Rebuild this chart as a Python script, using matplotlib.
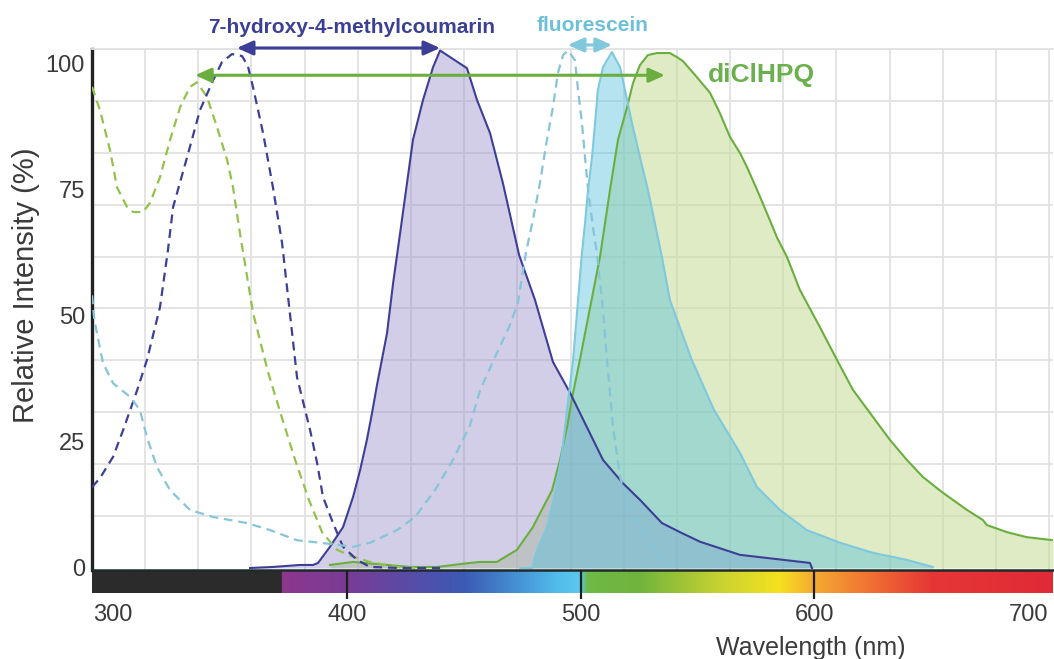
#!/usr/bin/env python3
"""
Excitation (dashed) and emission (filled) spectra of 7-hydroxy-4-methylcoumarin,
fluorescein and diClHPQ, with the visible colour bar under the wavelength axis.
"""
import numpy as np
import matplotlib.pyplot as plt
from matplotlib.colors import to_rgb

plt.rcParams["font.family"] = ["Liberation Sans", "DejaVu Sans"]

# ---- data (wavelength nm, relative intensity %) ----
cou_ex_nm = [291.0, 294.4, 300.0, 304.3, 310.3, 314.5, 320.1, 323.5, 325.7, 331.7, 337.2, 342.8,
             346.6, 350.9, 355.2, 357.7, 359.9, 364.2, 368.4, 372.3, 378.7, 384.3, 387.3, 389.8,
             394.1, 398.4, 404.4, 409.9, 422.8, 439.9]
cou_ex_val = [16.0, 17.8, 22.0, 27.3, 35.2, 41.2, 51.7, 63.0, 71.5, 81.4, 90.7, 96.6,
              100.2, 101.8, 101.4, 99.4, 95.2, 86.1, 75.4, 64.4, 37.8, 27.3, 20.8, 14.1,
              8.9, 4.2, 1.6, 0.2, 0.0, 0.0]

dic_ex_nm = [291.0, 294.4, 298.7, 301.7, 306.0, 308.6, 312.8, 315.8, 320.1, 324.4, 328.7, 332.9,
             335.9, 340.2, 344.5, 348.8, 351.3, 354.3, 359.9, 366.3, 372.3, 377.9, 383.8, 389.4,
             395.8, 402.7, 409.9, 421.5, 431.3]
dic_ex_val = [95.3, 90.7, 82.8, 75.4, 71.5, 70.5, 70.5, 72.3, 77.4, 84.8, 91.3, 95.3,
              96.2, 93.3, 87.3, 80.8, 75.5, 66.3, 50.5, 38.8, 29.7, 21.4, 13.5, 7.1,
              3.6, 2.2, 1.2, 0.2, 0.0]

flu_ex_nm = [291.0, 292.0, 295.7, 300.0, 307.3, 311.5, 314.5, 318.8, 324.4, 332.9, 342.8, 357.3,
             367.2, 378.7, 388.5, 402.7, 409.9, 421.5, 429.2, 437.7, 445.4, 452.7, 457.0, 463.4,
             469.4, 473.2, 476.7, 479.6, 482.6, 485.6, 488.2, 490.3, 492.5, 494.6, 497.6, 498.9,
             500.6, 501.9, 503.2, 505.3, 507.0, 509.6, 511.3, 513.9, 516.9, 521.1, 528.4, 535.3,
             542.5]
flu_ex_val = [54.0, 49.1, 40.6, 36.6, 33.9, 31.3, 25.9, 20.0, 15.4, 11.5, 10.1, 8.9,
              7.5, 5.5, 5.0, 4.2, 5.0, 7.5, 10.1, 15.4, 21.4, 28.3, 35.2, 41.8,
              47.7, 52.5, 62.6, 68.9, 76.2, 84.8, 91.3, 98.0, 101.6, 102.5, 100.6, 94.7,
              88.1, 81.4, 74.9, 67.5, 62.4, 51.1, 41.2, 27.9, 18.0, 11.5, 5.5, 1.6,
              0.0]

cou_em_nm = [358.6, 368.4, 380.0, 385.6, 387.7, 392.8, 398.4, 402.7, 405.7, 408.6, 410.8, 412.9,
             417.2, 419.8, 422.8, 428.3, 432.6, 436.9, 439.9, 451.4, 455.7, 461.3, 466.8, 473.7,
             480.5, 488.2, 495.5, 502.7, 509.6, 518.1, 525.4, 534.8, 542.5, 551.1, 568.2, 598.1,
             599.0]
cou_em_val = [0.0, 0.2, 0.6, 0.6, 1.0, 4.2, 8.1, 14.1, 19.4, 25.4, 30.7, 36.2,
              46.5, 56.4, 66.3, 84.8, 92.7, 99.2, 102.5, 99.0, 92.7, 86.1, 76.2, 62.0,
              53.1, 40.8, 34.7, 27.9, 21.4, 16.8, 13.5, 8.9, 7.1, 5.2, 2.6, 1.0,
              0.0]

flu_em_nm = [474.1, 479.2, 481.4, 485.6, 489.1, 492.1, 494.2, 496.8, 500.6, 501.9, 503.2, 504.9,
             506.2, 507.4, 509.6, 513.4, 516.9, 519.0, 522.0, 525.4, 528.8, 531.8, 534.8, 538.2,
             547.6, 557.1, 568.2, 575.5, 585.3, 596.8, 611.0, 625.1, 639.6, 650.7]
flu_em_val = [0.0, 0.0, 3.6, 8.1, 14.9, 22.8, 31.3, 41.2, 62.4, 68.3, 74.9, 81.4,
              88.1, 94.7, 99.2, 102.2, 99.2, 94.7, 88.1, 81.4, 74.9, 68.3, 61.6, 53.1,
              41.2, 31.3, 22.8, 16.0, 11.5, 7.5, 5.0, 3.0, 1.6, 0.2]

dic_em_nm = [392.8, 402.7, 417.2, 427.0, 438.6, 452.7, 457.0, 464.2, 472.8, 479.6, 487.8, 491.2,
             494.2, 496.8, 499.7, 508.3, 512.6, 516.0, 519.9, 522.4, 525.4, 528.8, 532.7, 538.2,
             541.2, 543.8, 549.8, 555.4, 559.6, 563.9, 568.2, 571.2, 575.5, 579.7, 584.0, 588.3,
             593.8, 602.4, 609.7, 616.5, 625.1, 632.3, 639.6, 646.5, 655.0, 665.3, 672.1, 673.8,
             682.4, 690.9, 702.1]
dic_em_val = [0.6, 1.2, 0.6, 0.2, 0.2, 1.0, 1.2, 1.2, 3.6, 8.1, 15.4, 21.4,
              27.9, 34.7, 41.2, 61.6, 74.9, 84.8, 91.3, 96.0, 99.6, 101.6, 102.0, 102.0,
              101.2, 100.4, 97.2, 94.1, 90.1, 85.4, 82.2, 79.4, 74.9, 70.3, 65.5, 61.6,
              55.1, 47.7, 41.2, 35.3, 29.9, 25.4, 21.4, 18.0, 14.9, 11.5, 9.5, 8.5,
              7.1, 6.1, 5.5]

y_ticks = [0, 25, 50, 75, 100]
x_ticks = [300, 400, 500, 600, 700]

# colours
COU = "#3d3f96"
FLU = "#7fc8de"
DIC = "#6aae3e"
DIC_EX = "#93c24a"
GRID = "#e2e2e2"
TXT = "#3a3a3a"

XMIN, XMAX = 291.0, 702.1
YMIN, YMAX = -0.4, 102.8

fig = plt.figure(figsize=(10.54, 6.59), dpi=100)
ax = fig.add_axes([92 / 1054, 1 - 570 / 659, 961 / 1054, 521 / 659])
ax_bar = fig.add_axes([92 / 1054, 1 - 593 / 659, 961 / 1054, 23 / 659])

ax.set_xlim(XMIN, XMAX)
ax.set_ylim(YMIN, YMAX)

# background grid (not aligned with the tick labels in the original)
for gx in np.arange(313.7, XMAX, 22.75):
    ax.axvline(gx, color=GRID, lw=1.3, zorder=0)
for gy in np.linspace(0, YMAX, 11)[1:]:
    ax.axhline(gy, color=GRID, lw=1.3, zorder=0)

# emission fills
ax.fill_between(dic_em_nm, dic_em_val, 0, color="#c5dc95", alpha=0.55, lw=0, zorder=1)
ax.fill_between(cou_em_nm, cou_em_val, 0, color="#8f86c6", alpha=0.40, lw=0, zorder=1)
ax.fill_between(flu_em_nm, flu_em_val, 0, color="#4fc0dd", alpha=0.42, lw=0, zorder=1)

# emission lines
ax.plot(dic_em_nm, dic_em_val, color=DIC, lw=1.5, zorder=3)
ax.plot(cou_em_nm, cou_em_val, color=COU, lw=1.5, zorder=3)
ax.plot(flu_em_nm, flu_em_val, color=FLU, lw=1.5, zorder=3)

# excitation lines
dash = (0, (4, 2.6))
ax.plot(dic_ex_nm, dic_ex_val, color=DIC_EX, lw=1.6, ls=dash, zorder=4)
ax.plot(cou_ex_nm, cou_ex_val, color=COU, lw=1.6, ls=dash, zorder=4)
ax.plot(flu_ex_nm, flu_ex_val, color="#86c5d8", lw=1.6, ls=dash, zorder=4)


# Stokes shift arrows + labels
def shift_arrow(x0, x1, y, color):
    ax.annotate("", xy=(x1, y), xytext=(x0, y), annotation_clip=False,
                arrowprops=dict(arrowstyle="<|-|>,head_length=0.8,head_width=0.36",
                                mutation_scale=12, lw=2.2, color=color,
                                shrinkA=0, shrinkB=0), zorder=6)


shift_arrow(353.0, 439.9, 103.0, COU)
shift_arrow(494.6, 513.4, 103.6, FLU)
shift_arrow(335.1, 536.1, 97.6, DIC)

ax.text(402.2, 107.1, "7-hydroxy-4-methylcoumarin", color="#3b4095", fontsize=15,
        fontweight="bold", ha="center", va="center", clip_on=False)
ax.text(505.3, 107.5, "fluorescein", color="#6cc0d8", fontsize=15,
        fontweight="bold", ha="center", va="center", clip_on=False)
ax.text(554.5, 97.6, "diClHPQ", color="#6ab04c", fontsize=19,
        fontweight="bold", ha="left", va="center", clip_on=False)

# axes styling
for side in ["right", "bottom"]:
    ax.spines[side].set_visible(False)
ax.spines["top"].set_color(GRID)
ax.spines["top"].set_linewidth(1.3)
ax.spines["left"].set_color("#222222")
ax.spines["left"].set_linewidth(2.4)
ax.set_yticks(y_ticks)
ax.set_xticks([])
ax.tick_params(axis="y", length=0, pad=5, labelsize=17, labelcolor=TXT)

# visible spectrum bar
stops_nm = [291.0, 372.0, 372.1, 400, 425, 450, 475, 490, 500, 503, 525, 560, 585, 600, 625, 650, 702.1]
stops_col = ["#2b2b2b", "#2b2b2b", "#8c378c", "#7a3c96", "#5a4ba6", "#3c5ab4", "#4696d7",
             "#52bceb", "#5cc8ec", "#6eb946", "#70b43c", "#c8d232", "#f5e11e", "#f5aa32",
             "#f06e32", "#e63737", "#e02a36"]
rgb = np.array([to_rgb(c) for c in stops_col])
wl = np.linspace(XMIN, XMAX, 1200)
img = np.stack([np.interp(wl, stops_nm, rgb[:, k]) for k in range(3)], axis=-1)[None, :, :]
ax_bar.imshow(img, aspect="auto", extent=[XMIN, XMAX, 0, 1])
ax_bar.set_xlim(XMIN, XMAX)
ax_bar.set_ylim(0, 1)
for s in ax_bar.spines.values():
    s.set_visible(False)
ax_bar.axhline(1, color="#1e2a2a", lw=1.8, clip_on=False)
ax_bar.vlines([400, 500, 600], -0.25, 1, color="#1e1e1e", lw=1.6, clip_on=False)
ax_bar.set_yticks([])
ax_bar.set_xticks(x_ticks)
ax_bar.tick_params(axis="x", length=0, pad=8, labelsize=17, labelcolor=TXT)
ax_bar.get_xticklabels()[-1].set_ha("right")

fig.text(26 / 1054, 1 - 285 / 659, "Relative Intensity (%)", rotation=90, fontsize=21,
         color=TXT, ha="center", va="center")
fig.text(811 / 1054, 1 - 648 / 659, "Wavelength (nm)", fontsize=18,
         color=TXT, ha="center", va="center")

fig.savefig("out.png", dpi=100)
